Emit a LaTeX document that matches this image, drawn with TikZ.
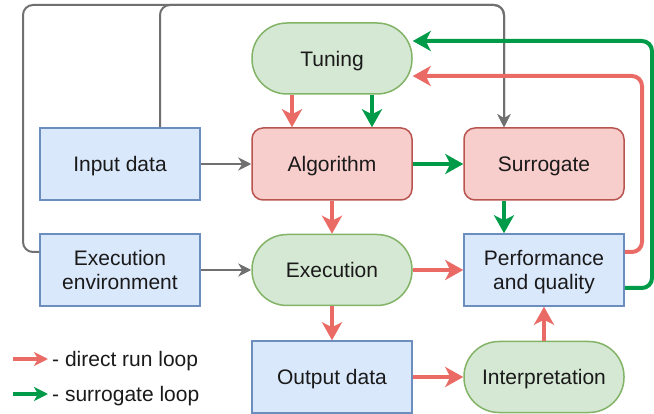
\documentclass[tikz,border=0pt]{standalone}
\usepackage{fontspec}
\setmainfont{Liberation Sans}
\usetikzlibrary{arrows.meta,calc}
\definecolor{bfill}{HTML}{DAE8FC}
\definecolor{bdraw}{HTML}{6C8EBF}
\definecolor{gfill}{HTML}{D5E8D4}
\definecolor{gdraw}{HTML}{82B366}
\definecolor{rfill}{HTML}{F8CECC}
\definecolor{rdraw}{HTML}{B85450}
\definecolor{rarrow}{HTML}{EA6B66}
\definecolor{garrow}{HTML}{009B48}
\definecolor{gline}{HTML}{707070}
\definecolor{txt}{HTML}{1A1A1A}
\tikzset{
  box/.style={draw, line width=1.5pt, minimum width=160pt, minimum height=72pt,
    align=center, inner sep=0pt, text=txt, text depth=0pt},
  bluebox/.style={box, fill=bfill, draw=bdraw},
  greenbox/.style={box, fill=gfill, draw=gdraw, rounded corners=35pt, minimum height=71pt},
  redbox/.style={box, fill=rfill, draw=rdraw, rounded corners=11pt},
  redarrow/.style={draw=rarrow, line width=4pt, rounded corners=10pt,
    -{Stealth[length=18pt,width=20pt,inset=5pt]}},
  greenarrow/.style={draw=garrow, line width=4pt, rounded corners=10pt,
    -{Stealth[length=18pt,width=20pt,inset=5pt]}},
  grayarrow/.style={draw=gline, line width=2pt, rounded corners=10pt,
    -{Stealth[length=13pt,width=13pt,inset=4pt]}},
  legendred/.style={draw=rarrow, line width=4pt, -{Stealth[length=14pt,width=14pt,inset=4pt]}},
  legendgreen/.style={draw=garrow, line width=4pt, -{Stealth[length=14pt,width=14pt,inset=4pt]}},
  legendtext/.style={anchor=base west, inner sep=0pt, text=txt}
}
\begin{document}
\begin{tikzpicture}[x=1pt, y=-1pt, font=\fontsize{21}{24.5}\selectfont]
\useasboundingbox (0,0) rectangle (654,414);

% nodes
\node[greenbox] (tune) at (332,58.5) {Tuning};
\node[bluebox]  (in)   at (120,164) {Input data};
\node[redbox]   (alg)  at (332,164) {Algorithm};
\node[redbox]   (sur)  at (544,164) {Surrogate};
\node[bluebox]  (ee)   at (120,270) {Execution\\environment};
\node[greenbox] (exe)  at (332,270) {Execution};
\node[bluebox]  (perf) at (544,270) {Performance\\and quality};
\node[bluebox]  (out)  at (332,377) {Output data};
\node[greenbox] (int)  at (544,377) {Interpretation};

% helper coordinates
\coordinate (top) at (0,5);
\coordinate (lx) at (23,0);
\coordinate (rx) at (642,0);
\coordinate (gx) at (652,0);
\coordinate (inTop) at ([xshift=40pt]in.north);
\coordinate (surIn) at ([xshift=-40pt]sur.north);
\coordinate (eeL) at ([yshift=18pt]ee.west);
\coordinate (perfR) at ([yshift=18pt]perf.east);
\coordinate (perfG) at ([yshift=-18pt]perf.east);
\coordinate (tuneR) at ([yshift=-17.5pt]tune.east);
\coordinate (tuneG) at ([yshift=17.5pt]tune.east);

% gray connectors
\draw[grayarrow] (inTop) -- (inTop |- top) -- (surIn |- top) -- (surIn);
\draw[grayarrow] (eeL) -- (eeL -| lx) -- (lx |- top) -- (surIn |- top) -- (surIn);
\draw[grayarrow] (in.east) -- (alg.west);
\draw[grayarrow] (ee.east) -- (exe.west);

% tuning to algorithm
\draw[redarrow] ([xshift=-40pt]tune.south) -- ([xshift=-40pt]alg.north);
\draw[greenarrow] ([xshift=40pt]tune.south) -- ([xshift=40pt]alg.north);

% main flow
\draw[greenarrow] (alg.east) -- (sur.west);
\draw[redarrow] (alg.south) -- (exe.north);
\draw[greenarrow] ([xshift=-40pt]sur.south) -- ([xshift=-40pt]perf.north);
\draw[redarrow] (exe.east) -- (perf.west);
\draw[redarrow] (exe.south) -- (out.north);
\draw[redarrow] (out.east) -- (int.west);
\draw[redarrow] (int.north) -- (perf.south);

% loops back to tuning
\draw[redarrow] (perfR) -- (perfR -| rx) -- (rx |- tuneR) -- (tuneR);
\draw[greenarrow] (perfG) -- (perfG -| gx) -- (gx |- tuneG) -- (tuneG);

% legend
\coordinate (l1a) at (13,359);
\coordinate (l1b) at (48,359);
\coordinate (l2a) at (13,394);
\coordinate (l2b) at (48,394);
\draw[legendred] (l1a) -- (l1b);
\draw[legendgreen] (l2a) -- (l2b);
\node[legendtext] (lt1) at (52,366.5) {- direct run loop};
\node[legendtext] (lt2) at (52,401.5) {- surrogate loop};
\end{tikzpicture}
\end{document}
